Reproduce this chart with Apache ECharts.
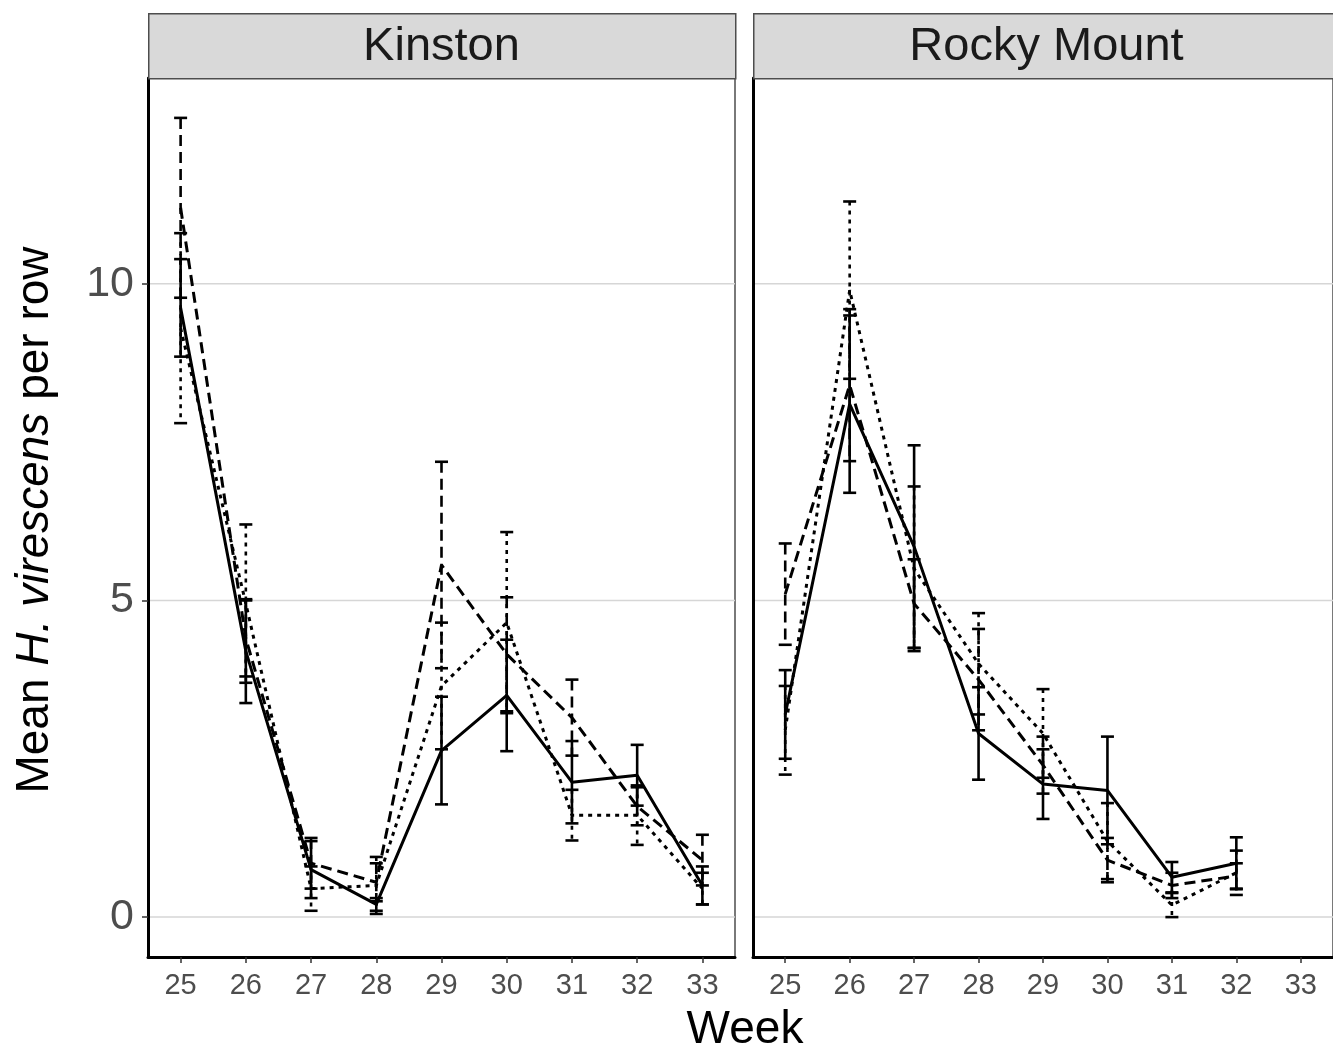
<!DOCTYPE html>
<html>
<head>
<meta charset="utf-8">
<script src="https://cdn.jsdelivr.net/npm/echarts@6/dist/echarts.min.js"></script>
<style>
  html, body { margin: 0; padding: 0; background: #fff; }
  #chart { width: 1333px; height: 1048px; }
</style>
</head>
<body>
<div id="chart"></div>
<script>
// Weekly means of H. virescens per row, with error bars, at two sites.
const weeks = ['25', '26', '27', '28', '29', '30', '31', '32', '33'];
const yTicks = [0, 5, 10];
const siteNames = ['Kinston', 'Rocky Mount'];

// Kinston
const kinSolid    = [9.62, 4.20, 0.75, 0.20, 2.63, 3.50, 2.13, 2.24, 0.50];
const kinSolidErr = [0.77, 0.82, 0.45, 0.10, 0.85, 0.88, 0.65, 0.48, 0.30];
const kinDashed    = [11.20, 4.40, 0.85, 0.55, 5.56, 4.15, 3.15, 1.75, 0.90];
const kinDashedErr = [1.42, 0.60, 0.40, 0.30, 1.63, 0.90, 0.60, 0.30, 0.40];
const kinDotted    = [9.30, 4.95, 0.45, 0.50, 3.65, 4.65, 1.61, 1.61, 0.45];
const kinDottedErr = [1.50, 1.25, 0.35, 0.45, 1.00, 1.43, 0.40, 0.47, 0.25];

// Rocky Mount (no sampling in week 33)
const rmSolid    = [3.20, 8.10, 5.85, 2.90, 2.10, 2.00, 0.63, 0.85];
const rmSolidErr = [0.70, 1.40, 1.60, 0.73, 0.55, 0.85, 0.24, 0.41];
const rmDashed    = [5.10, 8.40, 4.95, 3.75, 2.40, 0.90, 0.50, 0.65];
const rmDashedErr = [0.80, 1.20, 0.70, 0.80, 0.45, 0.35, 0.20, 0.20];
const rmDotted    = [2.95, 9.90, 5.50, 4.00, 2.90, 1.20, 0.19, 0.70];
const rmDottedErr = [0.70, 1.40, 1.30, 0.80, 0.70, 0.60, 0.19, 0.35];

const FONT = '"Liberation Sans", Arial, Helvetica, sans-serif';
const DASHES = { solid: 'solid', dashed: [11, 6], dotted: [4, 5] };

const panels = [
  { name: siteNames[0], groups: [
    { key: 'solid', mean: kinSolid, err: kinSolidErr },
    { key: 'dashed', mean: kinDashed, err: kinDashedErr },
    { key: 'dotted', mean: kinDotted, err: kinDottedErr }
  ]},
  { name: siteNames[1], groups: [
    { key: 'solid', mean: rmSolid, err: rmSolidErr },
    { key: 'dashed', mean: rmDashed, err: rmDashedErr },
    { key: 'dotted', mean: rmDotted, err: rmDottedErr }
  ]}
];

const PANEL_TOP = 78, PANEL_H = 879, PANEL_W = 587;
const panelLefts = [148, 753];

const grids = [], xAxes = [], yAxes = [], series = [], graphics = [];

panels.forEach((p, i) => {
  grids.push({
    left: panelLefts[i], top: PANEL_TOP, width: PANEL_W, height: PANEL_H,
    show: true, borderColor: '#4d4d4d', borderWidth: 1.5, backgroundColor: '#fff'
  });
  xAxes.push({
    type: 'category', gridIndex: i, data: weeks, boundaryGap: true,
    axisLine: { show: true, onZero: false, lineStyle: { color: '#000', width: 3 } },
    axisTick: { show: true, alignWithLabel: true, length: 6, lineStyle: { color: '#333', width: 1.5 } },
    axisLabel: { color: '#4d4d4d', fontSize: 29, fontFamily: FONT, margin: 14 },
    splitLine: { show: false }
  });
  yAxes.push({
    type: 'value', gridIndex: i, min: -0.63, max: 13.25,
    axisLine: { show: true, onZero: false, lineStyle: { color: '#000', width: 3 } },
    axisTick: { show: i === 0, customValues: yTicks, length: 6, lineStyle: { color: '#333', width: 1.5 } },
    axisLabel: { show: i === 0, customValues: yTicks, color: '#4d4d4d', fontSize: 43, fontFamily: FONT, margin: 14 },
    splitLine: { show: false }
  });

  // horizontal reference lines at the y tick values
  series.push({
    type: 'custom', xAxisIndex: i, yAxisIndex: i, silent: true, z: 0,
    data: yTicks.map(v => [0, v]),
    renderItem: (params, api) => {
      const cs = params.coordSys;
      const y = api.coord([0, api.value(1)])[1];
      return { type: 'line', shape: { x1: cs.x, y1: y, x2: cs.x + cs.width, y2: y },
               style: { stroke: '#d6d6d6', lineWidth: 1.5 } };
    }
  });

  p.groups.forEach(g => {
    const dash = DASHES[g.key];
    series.push({
      name: g.key, type: 'line', xAxisIndex: i, yAxisIndex: i,
      data: g.mean, symbol: 'none', silent: true, z: 3,
      lineStyle: { color: '#000', width: 3, type: dash }
    });
    series.push({
      name: g.key, type: 'custom', xAxisIndex: i, yAxisIndex: i, silent: true, z: 4,
      data: g.mean.map((m, k) => [k, m, g.err[k]]),
      renderItem: (params, api) => {
        const x = api.value(0), m = api.value(1), e = api.value(2);
        const hi = api.coord([x, m + e]);
        const lo = api.coord([x, m - e]);
        const cap = 6.5;
        const st = { stroke: '#000', lineWidth: 2.6, lineDash: dash === 'solid' ? null : dash };
        return { type: 'group', children: [
          { type: 'line', shape: { x1: hi[0], y1: hi[1], x2: lo[0], y2: lo[1] }, style: st },
          { type: 'line', shape: { x1: hi[0] - cap, y1: hi[1], x2: hi[0] + cap, y2: hi[1] }, style: { stroke: '#000', lineWidth: 2.6 } },
          { type: 'line', shape: { x1: lo[0] - cap, y1: lo[1], x2: lo[0] + cap, y2: lo[1] }, style: { stroke: '#000', lineWidth: 2.6 } }
        ]};
      }
    });
  });

  // facet strip
  graphics.push({
    type: 'rect', left: panelLefts[i], top: 13, z: 10,
    shape: { width: PANEL_W, height: PANEL_TOP - 13 },
    style: { fill: '#d9d9d9', stroke: '#4d4d4d', lineWidth: 1.5 }
  });
  graphics.push({
    type: 'text', x: panelLefts[i] + PANEL_W / 2, y: 47, z: 11,
    style: { text: p.name, fill: '#1a1a1a', font: '47px ' + FONT, align: 'center', verticalAlign: 'middle' }
  });
});

// axis titles
graphics.push({
  type: 'text', x: 745, y: 1030, z: 11,
  style: { text: 'Week', fill: '#000', font: '46px ' + FONT, align: 'center', verticalAlign: 'middle' }
});
graphics.push({
  type: 'text', x: 35, y: 520, rotation: Math.PI / 2, z: 11,
  style: {
    text: '{n|Mean }{i|H. virescens}{n| per row}',
    align: 'center', verticalAlign: 'middle',
    rich: {
      n: { fontSize: 46, fontFamily: FONT, fill: '#000' },
      i: { fontSize: 46, fontFamily: FONT, fontStyle: 'italic', fill: '#000' }
    }
  }
});

const chart = echarts.init(document.getElementById('chart'), null, { renderer: 'canvas' });
chart.setOption({
  animation: false,
  backgroundColor: '#fff',
  grid: grids,
  xAxis: xAxes,
  yAxis: yAxes,
  series: series,
  graphic: graphics
});
</script>
</body>
</html>
